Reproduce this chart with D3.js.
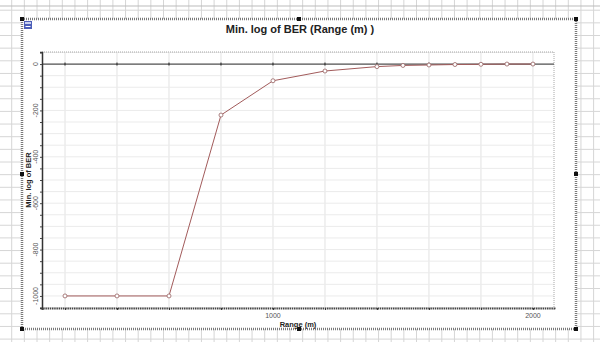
<!DOCTYPE html>
<html>
<head>
<meta charset="utf-8">
<script src="https://cdn.jsdelivr.net/npm/d3@7"></script>
<style>
  html, body { margin: 0; padding: 0; background: #fff; }
  svg { display: block; font-family: "Liberation Sans", Arial, sans-serif; }
</style>
</head>
<body>
<svg id="chart" width="600" height="342"></svg>
<script>
// Range in metres and the minimum log of the bit-error rate at each range
const ranges = [200, 400, 600, 800, 1000, 1200, 1400, 1500, 1600, 1700, 1800, 1900, 2000];
const minLogBER = [-1000, -1000, -1000, -220, -72, -30, -11, -6, -4, -2, -1, 0, 0];
const yTickValues = [0, -200, -400, -600, -800, -1000];
const xTickValues = [1000, 2000];
const chartTitle = "Min. log of BER (Range (m) )";
const xTitle = "Range (m)";
const yTitle = "Min. log of BER";

const W = 600, H = 342;
const svg = d3.select("#chart");

// Worksheet grid behind the chart panel
const cell = 12.65;
const bg = svg.append("g");
d3.range(11.7 - cell, W, cell).forEach(x => bg.append("line")
  .attr("x1", x).attr("x2", x).attr("y1", 0).attr("y2", H)
  .attr("stroke", "#d6d6d6").attr("stroke-width", 1));
d3.range(10.2 - cell, H, cell).forEach(y => bg.append("line")
  .attr("x1", 0).attr("x2", W).attr("y1", y).attr("y2", y)
  .attr("stroke", "#d6d6d6").attr("stroke-width", 1));
bg.append("line").attr("x1", 0).attr("x2", W).attr("y1", 6).attr("y2", 6)
  .attr("stroke", "#bbb");

// Chart panel with its hatched selection frame
const frame = { x0: 22, y0: 19, x1: 576, y1: 329 };
svg.append("rect")
  .attr("x", frame.x0).attr("y", frame.y0)
  .attr("width", frame.x1 - frame.x0).attr("height", frame.y1 - frame.y0)
  .attr("fill", "#fff").attr("stroke", "#7a7a7a").attr("stroke-width", 2.5)
  .attr("stroke-dasharray", "1,1");

// Selection handles
const midX = (frame.x0 + frame.x1) / 2, midY = (frame.y0 + frame.y1) / 2;
[[frame.x0, frame.y0], [frame.x1, frame.y0], [frame.x0, frame.y1], [frame.x1, frame.y1],
 [midX, frame.y0], [midX, frame.y1], [frame.x0, midY], [frame.x1, midY]]
  .forEach(([x, y]) => svg.append("rect")
    .attr("x", x - 2).attr("y", y - 2).attr("width", 4).attr("height", 4)
    .attr("fill", "#111"));

// Small chart icon in the panel corner
const icon = svg.append("g").attr("transform", "translate(24,21)");
icon.append("rect").attr("width", 8).attr("height", 8).attr("fill", "#4d5fb8");
icon.append("rect").attr("x", 1).attr("y", 1).attr("width", 6).attr("height", 2).attr("fill", "#c9d0f0");
icon.append("line").attr("x1", 1.5).attr("x2", 6.5).attr("y1", 5.5).attr("y2", 5.5)
  .attr("stroke", "#fff").attr("stroke-width", 1);

// Title
svg.append("text")
  .attr("x", 300).attr("y", 33)
  .attr("text-anchor", "middle")
  .attr("font-size", 11).attr("font-weight", "bold").attr("fill", "#222")
  .text(chartTitle);

// Plot area and scales
const plot = { left: 42, right: 554, top: 52, bottom: 308 };
const x = d3.scaleLinear().domain([111.5, 2081]).range([plot.left, plot.right]);
const y = d3.scaleLinear().domain([-1052, 52]).range([plot.bottom, plot.top]);

const g = svg.append("g");

// Grid lines: vertical every 200 m, horizontal every 50
g.selectAll("line.vgrid").data(d3.range(200, 2001, 200)).join("line")
  .attr("class", "vgrid")
  .attr("x1", d => x(d)).attr("x2", d => x(d))
  .attr("y1", plot.top).attr("y2", plot.bottom)
  .attr("stroke", "#e2e2e2").attr("stroke-width", 1);
g.selectAll("line.hgrid").data(d3.range(-1050, 51, 50)).join("line")
  .attr("class", "hgrid")
  .attr("x1", plot.left).attr("x2", plot.right)
  .attr("y1", d => y(d)).attr("y2", d => y(d))
  .attr("stroke", "#ebebeb").attr("stroke-width", 1);

// Dotted border on the top and right of the plot area
g.append("path")
  .attr("d", `M${plot.left},${plot.top}H${plot.right}V${plot.bottom}`)
  .attr("fill", "none").attr("stroke", "#a8a8a8").attr("stroke-width", 1)
  .attr("stroke-dasharray", "1,1");

// Zero reference line with tick marks
g.append("line")
  .attr("x1", plot.left).attr("x2", plot.right)
  .attr("y1", y(0)).attr("y2", y(0))
  .attr("stroke", "#555").attr("stroke-width", 1.2);
g.selectAll("line.ztick").data(d3.range(200, 2001, 200)).join("line")
  .attr("class", "ztick")
  .attr("x1", d => x(d)).attr("x2", d => x(d))
  .attr("y1", y(0) - 1.5).attr("y2", y(0) + 1.5)
  .attr("stroke", "#222").attr("stroke-width", 1);

// Left axis: minor ticks every 50, labels every 200
const yAxis = d3.axisLeft(y).tickValues(d3.range(-1050, 51, 50)).tickSize(2).tickFormat("");
const ya = svg.append("g").attr("transform", `translate(${plot.left},0)`).call(yAxis);
ya.select(".domain").attr("stroke", "#333").attr("stroke-width", 1.5);
ya.selectAll(".tick line").attr("stroke", "#444");

svg.selectAll("text.ylab").data(yTickValues).join("text")
  .attr("class", "ylab")
  .attr("transform", d => `translate(38,${y(d)}) rotate(-90)`)
  .attr("text-anchor", "middle")
  .attr("font-size", 7).attr("fill", "#555")
  .text(d => d);

// Bottom axis
const xAxis = d3.axisBottom(x).tickValues(d3.range(200, 2001, 200)).tickSize(2).tickFormat("");
const xa = svg.append("g").attr("transform", `translate(0,${plot.bottom})`).call(xAxis);
xa.select(".domain").attr("stroke", "#444").attr("stroke-width", 2)
  .attr("stroke-dasharray", "1.5,0.7");
xa.selectAll(".tick line").attr("stroke", "#333");

svg.selectAll("text.xlab").data(xTickValues).join("text")
  .attr("class", "xlab")
  .attr("x", d => x(d)).attr("y", 318)
  .attr("text-anchor", "middle")
  .attr("font-size", 7).attr("fill", "#555")
  .text(d => d);

// Axis titles
svg.append("text")
  .attr("x", (plot.left + plot.right) / 2).attr("y", 327)
  .attr("text-anchor", "middle")
  .attr("font-size", 7.5).attr("font-weight", "bold").attr("fill", "#222")
  .text(xTitle);
svg.append("text")
  .attr("transform", `translate(31,${(plot.top + plot.bottom) / 2}) rotate(-90)`)
  .attr("text-anchor", "middle")
  .attr("font-size", 7.5).attr("font-weight", "bold").attr("fill", "#222")
  .text(yTitle);

// Series line and open circle markers
const pts = ranges.map((r, i) => [r, minLogBER[i]]);
svg.append("path")
  .datum(pts)
  .attr("d", d3.line().x(d => x(d[0])).y(d => y(d[1])))
  .attr("fill", "none").attr("stroke", "#a25b5b").attr("stroke-width", 1);
svg.selectAll("circle.pt").data(pts).join("circle")
  .attr("class", "pt")
  .attr("cx", d => x(d[0])).attr("cy", d => y(d[1]))
  .attr("r", 2)
  .attr("fill", "#fff").attr("stroke", "#a07070").attr("stroke-width", 0.9);
</script>
</body>
</html>
